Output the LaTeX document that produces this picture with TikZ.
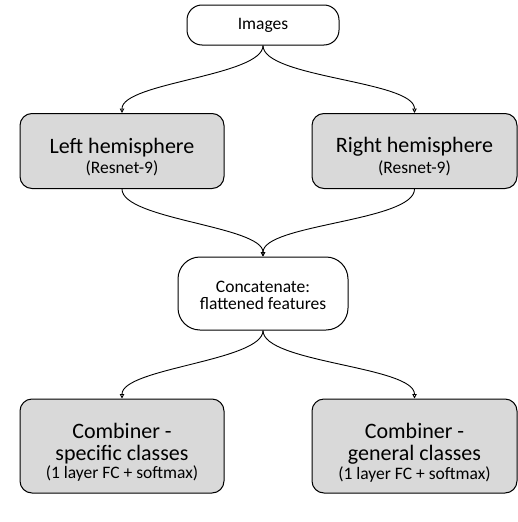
\documentclass[tikz,border=0pt]{standalone}
\usepackage{fontspec}
\setmainfont{Carlito}
\usetikzlibrary{arrows.meta}

\newcommand{\bigtxt}{\fontsize{22}{25}\selectfont}
\newcommand{\smalltxt}{\fontsize{17.5}{20}\selectfont}

\definecolor{boxgray}{HTML}{D9D9D9}
\tikzset{
  whitebox/.style={draw, line width=1pt, fill=white, inner sep=0pt, align=center},
  graybox/.style={draw, line width=1pt, fill=boxgray, rounded corners=12pt,
    inner sep=0pt, align=center},
  flow/.style={line width=0.9pt, -{Triangle[open,length=4.5pt,width=4.5pt]},
    out=-90, in=90, looseness=0.5}
}

\begin{document}
\begin{tikzpicture}[x=1pt,y=-1pt]
\useasboundingbox (0,0) rectangle (518,522);

\node[whitebox, rounded corners=15pt, minimum width=152pt, minimum height=40pt]
  (imgs) at (263,25) {\smalltxt Images};

\node[graybox, minimum width=204pt, minimum height=75pt]
  (lefthemi) at (122,151) {\bigtxt\rule{0pt}{27pt}Left hemisphere\\[3pt] \smalltxt (Resnet-9)};
\node[graybox, minimum width=205pt, minimum height=75pt]
  (righthemi) at (414.5,151) {\bigtxt\rule{0pt}{27pt}Right hemisphere\\[3pt] \smalltxt (Resnet-9)};

\node[whitebox, rounded corners=22pt, minimum width=170pt, minimum height=73pt]
  (concat) at (263,293.5) {\smalltxt\rule{0pt}{15pt}Concatenate:\\[3pt] \smalltxt flattened features};

\node[graybox, minimum width=204pt, minimum height=94pt]
  (combspec) at (122,446) {\bigtxt\rule{0pt}{28pt}Combiner -\\[6pt] \bigtxt specific classes\\[1pt] \smalltxt (1 layer FC + softmax)};
\node[graybox, minimum width=205pt, minimum height=94pt]
  (combgen) at (414.5,446) {\bigtxt\rule{0pt}{28pt}Combiner -\\[6pt] \bigtxt general classes\\[1pt] \smalltxt (1 layer FC + softmax)};

% connectors
\draw[flow] (imgs.south) to (lefthemi.north);
\draw[flow] (imgs.south) to (righthemi.north);
\draw[flow] (lefthemi.south) to (concat.north);
\draw[flow] (righthemi.south) to (concat.north);
\draw[flow] (concat.south) to (combspec.north);
\draw[flow] (concat.south) to (combgen.north);
\end{tikzpicture}
\end{document}
